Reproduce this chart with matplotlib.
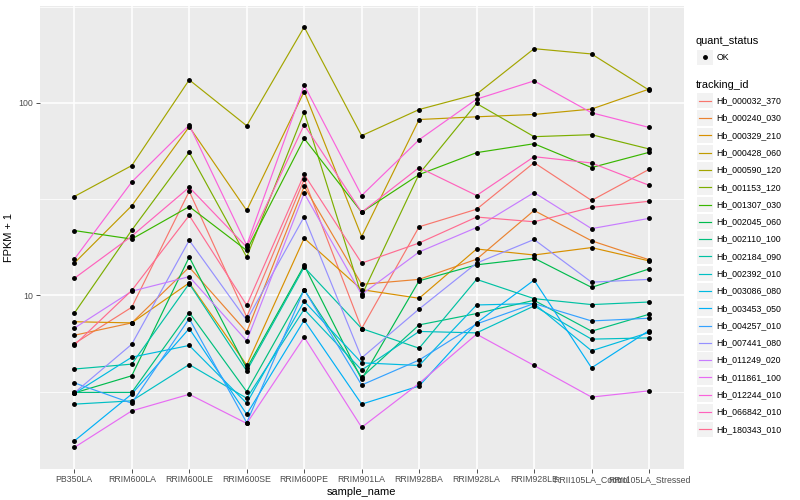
import matplotlib
matplotlib.use("Agg")
import numpy as np
import matplotlib.pyplot as plt
from matplotlib.lines import Line2D
from matplotlib.patches import Rectangle

plt.rcParams['font.family'] = ['Liberation Sans', 'DejaVu Sans']

samples = ["PB350LA", "RRIM600LA", "RRIM600LE", "RRIM600SE", "RRIM600PE",
           "RRIM901LA", "RRIM928BA", "RRIM928LA", "RRIM928LE",
           "RRII105LA_Control", "RRII105LA_Stressed"]

tracking_ids = ["Hb_000032_370", "Hb_000240_030", "Hb_000329_210", "Hb_000428_060",
                "Hb_000590_120", "Hb_001153_120", "Hb_001307_030", "Hb_002045_060",
                "Hb_002110_100", "Hb_002184_090", "Hb_002392_010", "Hb_003086_080",
                "Hb_003453_050", "Hb_004257_010", "Hb_007441_080", "Hb_011249_020",
                "Hb_011861_100", "Hb_012244_010", "Hb_066842_010", "Hb_180343_010"]

colors = ["#F8766D", "#EA8331", "#D89000", "#C09B00", "#A3A500", "#7CAE00", "#39B600",
          "#00BB4E", "#00BF7D", "#00C1A3", "#00BFC4", "#00BAE0", "#00B0F6", "#35A2FF",
          "#9590FF", "#C77CFF", "#E76BF3", "#FA62DB", "#FF62BC", "#FF6C91"]

# FPKM + 1 per sample (same order as `samples`)
hb_000032_370 = [5.61, 8.67, 34.7, 7.72, 40.0, 6.72, 22.7, 28.0, 48.9, 31.1, 45.1]
hb_000240_030 = [6.20, 7.19, 14.0, 6.45, 36.8, 11.4, 12.1, 15.4, 27.6, 19.2, 15.3]
hb_000329_210 = [7.29, 7.19, 11.6, 4.34, 19.8, 10.7, 9.65, 17.4, 16.2, 17.7, 15.1]
hb_000428_060 = [14.7, 29.2, 75.1, 27.6, 114.4, 20.2, 81.9, 84.6, 87.0, 92.8, 117.8]
hb_000590_120 = [32.6, 47.2, 131.6, 76.0, 247.6, 67.5, 92.3, 110.9, 191.1, 179.4, 116.4]
hb_001153_120 = [8.07, 21.8, 55.3, 15.8, 89.5, 9.97, 42.7, 99.2, 66.7, 68.3, 57.6]
hb_001307_030 = [21.7, 19.6, 28.9, 17.1, 65.3, 27.0, 42.4, 55.1, 61.3, 46.1, 55.3]
hb_002045_060 = [3.11, 3.82, 15.8, 4.17, 14.3, 3.66, 11.9, 14.4, 15.6, 11.0, 13.7]
hb_002110_100 = [3.13, 3.13, 8.14, 3.16, 10.7, 3.75, 7.02, 8.04, 9.42, 6.51, 7.97]
hb_002184_090 = [4.14, 4.39, 11.5, 4.05, 14.0, 6.72, 5.31, 12.1, 9.61, 8.95, 9.23]
hb_002392_010 = [2.72, 2.83, 4.37, 2.92, 8.46, 4.09, 6.49, 6.38, 8.80, 5.92, 6.01]
hb_003086_080 = [3.09, 4.77, 5.49, 2.75, 9.31, 4.46, 4.32, 8.91, 9.06, 5.15, 6.41]
hb_003453_050 = [1.75, 3.07, 6.72, 2.41, 7.42, 2.72, 3.38, 7.19, 12.0, 4.20, 6.56]
hb_004257_010 = [3.51, 2.75, 7.57, 2.18, 10.7, 3.42, 4.61, 7.10, 9.06, 7.36, 7.60]
hb_007441_080 = [3.11, 5.57, 19.3, 7.42, 25.6, 4.73, 8.49, 14.7, 19.5, 11.7, 12.1]
hb_011249_020 = [6.75, 10.5, 12.5, 5.80, 33.9, 10.1, 16.8, 22.5, 34.2, 22.2, 25.1]
hb_011861_100 = [1.62, 2.51, 3.06, 2.16, 6.06, 2.06, 3.49, 6.28, 4.32, 2.96, 3.19]
hb_012244_010 = [15.4, 38.8, 76.6, 18.2, 123.5, 33.0, 64.3, 104.5, 130.0, 88.8, 74.5]
hb_066842_010 = [12.25, 20.3, 36.4, 17.8, 76.9, 27.0, 46.1, 33.0, 52.5, 48.7, 37.3]
hb_180343_010 = [5.51, 10.6, 26.0, 8.88, 42.5, 14.7, 18.7, 25.5, 24.1, 28.6, 30.8]

series = [hb_000032_370, hb_000240_030, hb_000329_210, hb_000428_060, hb_000590_120,
          hb_001153_120, hb_001307_030, hb_002045_060, hb_002110_100, hb_002184_090,
          hb_002392_010, hb_003086_080, hb_003453_050, hb_004257_010, hb_007441_080,
          hb_011249_020, hb_011861_100, hb_012244_010, hb_066842_010, hb_180343_010]

W, H = 800, 500
fig = plt.figure(figsize=(8, 5), dpi=100)
fig.patch.set_facecolor("white")
L, R, T, B = 39.8, 683.5, 6.0, 468.5
ax = fig.add_axes([L / W, 1 - B / H, (R - L) / W, (B - T) / H])
ax.set_facecolor("#EBEBEB")

x = np.arange(len(samples))
for vals, c in zip(series, colors):
    ax.plot(x, vals, color=c, lw=0.85, zorder=3, solid_capstyle="butt")
for vals in series:
    ax.plot(x, vals, ls="none", marker="o", ms=2.5, color="black", zorder=4)

ax.set_yscale("log")
allv = np.log10(np.concatenate([np.asarray(s, float) for s in series]))
lo, hi = allv.min(), allv.max()
pad = 0.05 * (hi - lo)
ax.set_ylim(10 ** (lo - pad), 10 ** (hi + pad))
ax.set_xlim(-0.6, len(samples) - 1 + 0.6)

ax.set_yticks([10, 100])
ax.set_yticklabels(["10", "100"])
ax.set_yticks([10 ** 0.5, 10 ** 1.5, 10 ** 2.5], minor=True)
ax.yaxis.set_minor_formatter(plt.NullFormatter())
ax.set_xticks(x)
ax.set_xticklabels(samples)

ax.grid(True, which="major", axis="both", color="white", lw=1.1, zorder=0)
ax.grid(True, which="minor", axis="y", color="white", lw=0.55, zorder=0)
ax.set_axisbelow(True)
for s in ax.spines.values():
    s.set_visible(False)
ax.tick_params(axis="both", which="major", length=2.6, width=0.6, color="#333333",
               labelsize=6.3, labelcolor="#4D4D4D", pad=2)
ax.tick_params(axis="y", which="minor", length=0)

ax.set_xlabel("sample_name", fontsize=7.9, color="black", labelpad=2)
ax.set_ylabel("FPKM + 1", fontsize=7.9, color="black", labelpad=3)

# legends (drawn in figure pixel coordinates)
def fx(px):
    return px / W

def fy(py):
    return 1 - py / H

key = 15.3
kx0 = 697.3
fig.text(fx(696), fy(40.7), "quant_status", fontsize=7.9, va="center", ha="left")
fig.add_artist(Rectangle((fx(kx0), fy(57.3 + key / 2)), key / W, key / H,
                         transform=fig.transFigure, facecolor="#F2F2F2", edgecolor="none"))
fig.add_artist(Line2D([fx(kx0 + key / 2)], [fy(57.3)], transform=fig.transFigure,
                      marker="o", ms=2.5, color="black", ls="none"))
fig.text(fx(716.5), fy(57.3), "OK", fontsize=6.3, va="center", ha="left")

fig.text(fx(696), fy(84.5), "tracking_id", fontsize=7.9, va="center", ha="left")
y0, dy = 100.8, 17.29
for i, (tid, c) in enumerate(zip(tracking_ids, colors)):
    yc = y0 + i * dy
    fig.add_artist(Rectangle((fx(kx0), fy(yc + key / 2)), key / W, key / H,
                             transform=fig.transFigure, facecolor="#F2F2F2", edgecolor="none"))
    fig.add_artist(Line2D([fx(kx0 + 1.5), fx(kx0 + key - 1.5)], [fy(yc), fy(yc)],
                          transform=fig.transFigure, color=c, lw=0.85))
    fig.text(fx(716.5), fy(yc), tid, fontsize=6.3, va="center", ha="left")

fig.savefig("out.png", dpi=100)
